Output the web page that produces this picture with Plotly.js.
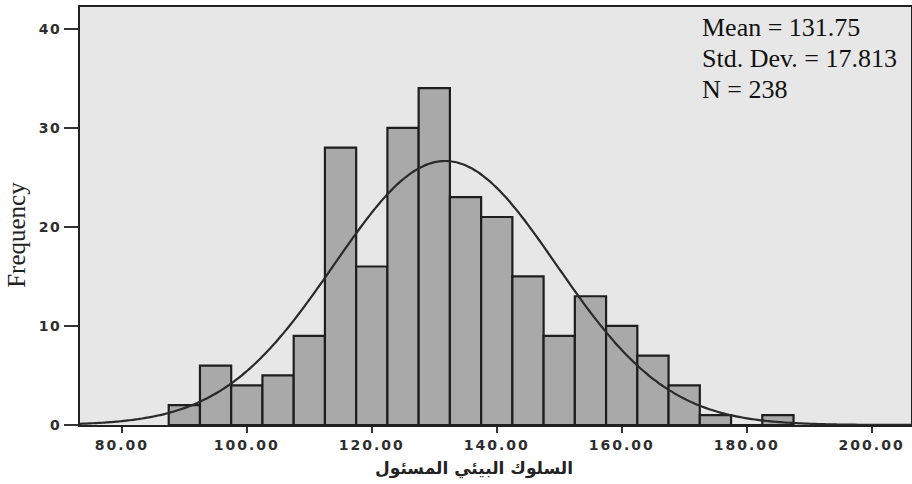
<!DOCTYPE html>
<html>
<head>
<meta charset="utf-8">
<script src="https://cdn.plot.ly/plotly-3.0.1.min.js"></script>
<style>
  html, body { margin: 0; padding: 0; background: #ffffff; }
  #chart { width: 912px; height: 484px; }
  .xtick text { letter-spacing: 2px; }
  .ytick text { letter-spacing: 1.5px; }
</style>
</head>
<body>
<div id="chart"></div>
<script>
// Histogram bins (centres) and frequencies
const binCenters = [90, 95, 100, 105, 110, 115, 120, 125, 130, 135, 140, 145, 150, 155, 160, 165, 170, 175, 180, 185];
const frequencies = [2, 6, 4, 5, 9, 28, 16, 30, 34, 23, 21, 15, 9, 13, 10, 7, 4, 1, 0, 1];
const binWidth = 5;

// Summary statistics printed on the chart
const meanValue = 131.75;
const stdDev = 17.813;
const nCount = 238;

// Axis ticks
const xTickVals = [80, 100, 120, 140, 160, 180, 200];
const xTickText = ["80.00", "100.00", "120.00", "140.00", "160.00", "180.00", "200.00"];
const yTickVals = [0, 10, 20, 30, 40];

const xTitle = "السلوك البيئي المسئول";
const yTitle = "Frequency";
const statsText = ["Mean = 131.75", "Std. Dev. = 17.813", "N = 238"];

// Fitted normal curve (defined by the chart's stated mean, sd and N)
const xMin = 73.3, xMax = 206.3;
const curveX = [], curveY = [];
for (let x = xMin; x <= xMax + 1e-9; x += 0.5) {
  const z = (x - meanValue) / stdDev;
  curveX.push(x);
  curveY.push(nCount * binWidth / (stdDev * Math.sqrt(2 * Math.PI)) * Math.exp(-0.5 * z * z));
}

const tickFont = { family: "DejaVu Sans", size: 14, color: "#2e2e2e", weight: "bold" };

const traces = [
  {
    type: "bar",
    x: binCenters,
    y: frequencies,
    width: binWidth,
    marker: { color: "#a9a9a9", line: { color: "#1e1e1e", width: 2.2 } },
    hoverinfo: "x+y",
    showlegend: false
  },
  {
    type: "scatter",
    mode: "lines",
    x: curveX,
    y: curveY,
    line: { color: "#2a2a2a", width: 2.2, shape: "spline" },
    hoverinfo: "skip",
    showlegend: false
  }
];

const statsY = [27, 59, 90];
const statsAnn = statsText.map((t, i) => ({
  xref: "paper", yref: "paper",
  x: (700 - 80) / 831, y: 1 - (statsY[i] - 7) / 418,
  xanchor: "left", yanchor: "middle",
  align: "left",
  showarrow: false,
  text: t,
  font: { family: "Liberation Serif", size: 26, color: "#111111" }
}));

const layout = {
  width: 912,
  height: 484,
  margin: { l: 80, r: 1, t: 7, b: 59 },
  paper_bgcolor: "#ffffff",
  plot_bgcolor: "#e7e7e7",
  bargap: 0,
  xaxis: {
    range: [xMin, xMax],
    tickvals: xTickVals,
    ticktext: xTickText,
    ticks: "outside",
    ticklen: 6,
    tickwidth: 2,
    tickcolor: "#333333",
    tickfont: tickFont,
    showgrid: false,
    zeroline: false,
    showline: true,
    mirror: true,
    linecolor: "#222222",
    linewidth: 2
  },
  yaxis: {
    range: [0, 42.2],
    tickvals: yTickVals,
    ticks: "outside",
    ticklen: 14,
    tickwidth: 2,
    tickcolor: "#333333",
    tickfont: tickFont,
    showgrid: false,
    zeroline: false,
    showline: true,
    mirror: true,
    linecolor: "#222222",
    linewidth: 2
  },
  annotations: statsAnn.concat([
    {
      xref: "paper", yref: "paper",
      x: -0.0758, y: 0.455,
      xanchor: "center", yanchor: "middle",
      textangle: -90,
      showarrow: false,
      text: yTitle,
      font: { family: "Liberation Serif", size: 25, color: "#222222" }
    },
    {
      xref: "paper", yref: "paper",
      x: (474 - 80) / 831, y: -0.105,
      xanchor: "center", yanchor: "middle",
      showarrow: false,
      text: xTitle,
      font: { family: "DejaVu Sans", size: 17, color: "#222222", weight: "bold" }
    }
  ])
};

Plotly.newPlot("chart", traces, layout, { displayModeBar: false, staticPlot: true });
</script>
</body>
</html>
